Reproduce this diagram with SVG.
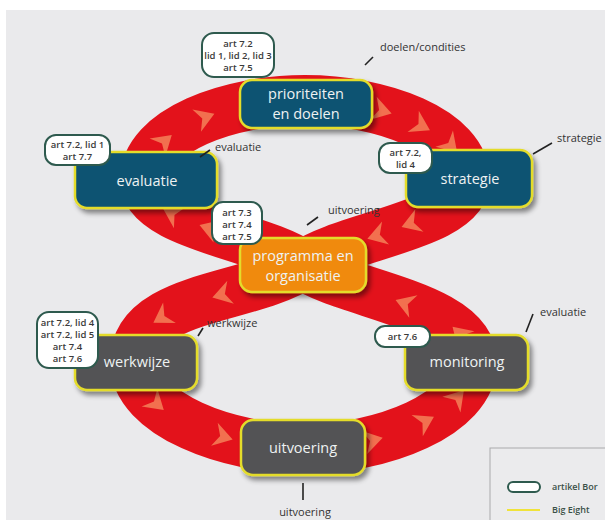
<svg xmlns="http://www.w3.org/2000/svg" xmlns:xlink="http://www.w3.org/1999/xlink" width="605" height="520" viewBox="0 0 605 520">
<defs>
<style>
.node rect.box{stroke:#e4dc2c;stroke-width:2.5}
.teal{fill:#0b5272}
.orange{fill:#f08a10}
.gray{fill:#535355}
.ntext{font-family:"Open Sans",sans-serif;font-size:14.5px;fill:#eef2f2;text-anchor:middle}
.badge rect{fill:#ffffff;stroke:#2e5a4e;stroke-width:2}
.btext{font-family:"Open Sans",sans-serif;font-size:9.5px;font-weight:600;fill:#3a3a3a;text-anchor:middle}
.lbl{font-family:"Open Sans",sans-serif;font-size:11px;fill:#333333}
.tick{stroke:#222222;stroke-width:1.6}
.leg{font-family:"Open Sans",sans-serif;font-size:9px;font-weight:600;fill:#3a5048}
</style>
<filter id="sh" x="-20%" y="-20%" width="150%" height="160%">
<feDropShadow dx="3" dy="4" stdDeviation="2.5" flood-color="#000" flood-opacity="0.45"/>
</filter>
<path id="chev" d="M -10 -12 L 9 0 L -10 12 L -4 0 Z" fill="#f2704f"/>
</defs>
<rect x="0" y="0" width="605" height="520" fill="#ffffff"/>
<rect x="6" y="10" width="599" height="510" fill="#eaeaec"/>

<g id="connectors">
<path d="M 303 265 C 260 235, 145 225, 145 180 C 145 130, 230 100, 305 100 C 380 100, 465 130, 465 180 C 465 225, 346 235, 303 265 C 250 300, 135 295, 135 362 C 135 415, 230 449, 305 449 C 380 449, 472 415, 472 362 C 472 305, 346 295, 303 265 Z" fill="none" stroke="#e3121b" stroke-width="50"/>
<use xlink:href="#chev" transform="translate(208 228) rotate(199)"/>
<use xlink:href="#chev" transform="translate(171 213) rotate(209)"/>
<use xlink:href="#chev" transform="translate(165 141) rotate(-41)"/>
<use xlink:href="#chev" transform="translate(206 117) rotate(-21)"/>
<use xlink:href="#chev" transform="translate(383 111) rotate(16)"/>
<use xlink:href="#chev" transform="translate(422 126) rotate(28)"/>
<use xlink:href="#chev" transform="translate(451 146) rotate(47)"/>
<use xlink:href="#chev" transform="translate(410 224) rotate(160)"/>
<use xlink:href="#chev" transform="translate(376 236) rotate(163)"/>
<use xlink:href="#chev" transform="translate(221 295) rotate(164)"/>
<use xlink:href="#chev" transform="translate(161 318) rotate(148)"/>
<use xlink:href="#chev" transform="translate(157 404) rotate(41)"/>
<use xlink:href="#chev" transform="translate(224 437) rotate(16)"/>
<use xlink:href="#chev" transform="translate(374 440) rotate(-14)"/>
<use xlink:href="#chev" transform="translate(426 421) rotate(-28)"/>
<use xlink:href="#chev" transform="translate(458 397) rotate(-49)"/>
<use xlink:href="#chev" transform="translate(459 333) rotate(224)"/>
<use xlink:href="#chev" transform="translate(404 303) rotate(200)"/>
</g>

<g id="node-prioriteiten" class="node">
<rect class="box teal" x="240" y="80" width="132" height="48" rx="12" filter="url(#sh)"/>
<text class="ntext" x="306" y="99">prioriteiten</text>
<text class="ntext" x="306" y="119">en doelen</text>
</g>
<g id="node-evaluatie" class="node">
<rect class="box teal" x="75" y="152" width="142" height="56" rx="12" filter="url(#sh)"/>
<text class="ntext" x="147" y="186">evaluatie</text>
</g>
<g id="node-strategie" class="node">
<rect class="box teal" x="406" y="150" width="126" height="57" rx="12" filter="url(#sh)"/>
<text class="ntext" x="470" y="184">strategie</text>
</g>
<g id="node-programma" class="node">
<rect class="box orange" x="240" y="238" width="126" height="54" rx="12" filter="url(#sh)"/>
<text class="ntext" x="303" y="261">programma en</text>
<text class="ntext" x="303" y="281">organisatie</text>
</g>
<g id="node-werkwijze" class="node">
<rect class="box gray" x="75" y="335" width="122" height="55" rx="12" filter="url(#sh)"/>
<text class="ntext" x="137" y="367">werkwijze</text>
</g>
<g id="node-monitoring" class="node">
<rect class="box gray" x="405" y="335" width="123" height="55" rx="12" filter="url(#sh)"/>
<text class="ntext" x="467" y="367">monitoring</text>
</g>
<g id="node-uitvoering" class="node">
<rect class="box gray" x="241" y="420" width="124" height="55" rx="12" filter="url(#sh)"/>
<text class="ntext" x="303" y="453">uitvoering</text>
</g>

<g id="badge-prioriteiten" class="badge">
<rect x="202" y="33" width="72" height="44" rx="12"/>
<text class="btext" x="238" y="47">art 7.2</text>
<text class="btext" x="238" y="59">lid 1, lid 2, lid 3</text>
<text class="btext" x="238" y="71">art 7.5</text>
</g>
<g id="badge-evaluatie" class="badge">
<rect x="45" y="135" width="65" height="30" rx="11"/>
<text class="btext" x="77.5" y="148">art 7.2, lid 1</text>
<text class="btext" x="77.5" y="160">art 7.7</text>
</g>
<g id="badge-strategie" class="badge">
<rect x="379" y="143" width="53" height="30" rx="11"/>
<text class="btext" x="405.5" y="156">art 7.2,</text>
<text class="btext" x="405.5" y="168">lid 4</text>
</g>
<g id="badge-programma" class="badge">
<rect x="212" y="202" width="50" height="42" rx="11"/>
<text class="btext" x="237" y="216">art 7.3</text>
<text class="btext" x="237" y="228">art 7.4</text>
<text class="btext" x="237" y="240">art 7.5</text>
</g>
<g id="badge-werkwijze" class="badge">
<rect x="37" y="312" width="61" height="56" rx="12"/>
<text class="btext" x="67.5" y="326">art 7.2, lid 4</text>
<text class="btext" x="67.5" y="338">art 7.2, lid 5</text>
<text class="btext" x="67.5" y="350">art 7.4</text>
<text class="btext" x="67.5" y="362">art 7.6</text>
</g>
<g id="badge-monitoring" class="badge">
<rect x="375" y="326" width="55" height="21" rx="10"/>
<text class="btext" x="402.5" y="340">art 7.6</text>
</g>

<g id="labels">
<line class="tick" x1="365" y1="65" x2="373" y2="57"/>
<text class="lbl" x="380" y="51">doelen/condities</text>
<line class="tick" x1="200" y1="157" x2="210" y2="150"/>
<text class="lbl" x="215" y="151">evaluatie</text>
<line class="tick" x1="533" y1="154" x2="552" y2="143"/>
<text class="lbl" x="557" y="142">strategie</text>
<line class="tick" x1="307" y1="225" x2="318" y2="217"/>
<text class="lbl" x="328" y="214">uitvoering</text>
<line class="tick" x1="198" y1="336" x2="203" y2="328"/>
<text class="lbl" x="207" y="327">werkwijze</text>
<line class="tick" x1="526" y1="332" x2="533" y2="314"/>
<text class="lbl" x="540" y="316">evaluatie</text>
<line class="tick" x1="303" y1="483" x2="303" y2="500"/>
<text class="lbl" x="305" y="516" text-anchor="middle">uitvoering</text>
</g>

<g id="legend">
<rect x="490" y="448" width="120" height="80" fill="#ebebed" stroke="#a9a9ab" stroke-width="1"/>
<rect x="508" y="482" width="32" height="10" rx="5" fill="#ffffff" stroke="#2e5a4e" stroke-width="2"/>
<text class="leg" x="552" y="490">artikel Bor</text>
<line x1="507" y1="510" x2="540" y2="510" stroke="#f0e33a" stroke-width="2"/>
<text class="leg" x="552" y="513">Big Eight</text>
</g>
</svg>
